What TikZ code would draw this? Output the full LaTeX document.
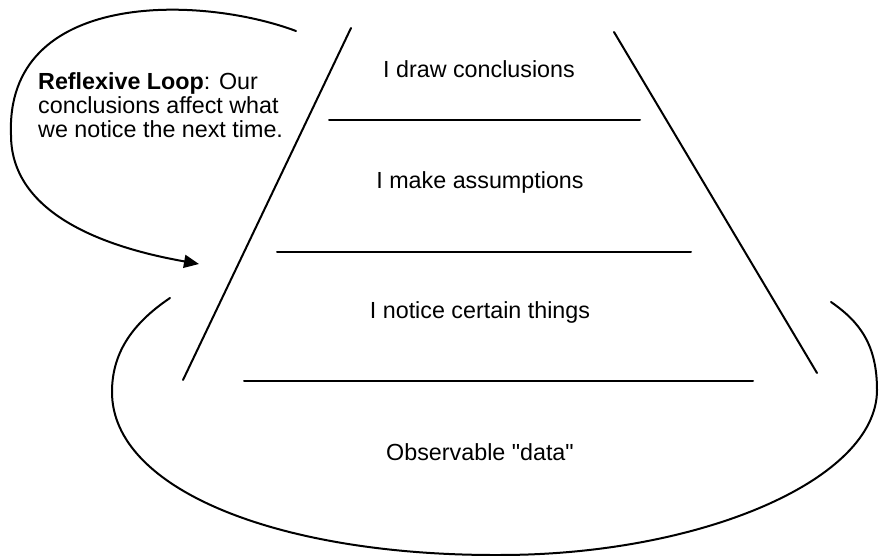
\documentclass[tikz,border=0pt]{standalone}
\usepackage{fontspec}
\setmainfont{Liberation Sans}
\usetikzlibrary{arrows.meta}
\begin{document}
\begin{tikzpicture}[x=1pt,y=-1pt,
  stroke/.style={line width=2pt, line cap=round},
  loopline/.style={line width=2pt, line cap=round},
  label/.style={font=\fontsize{23.3}{24}\selectfont, inner sep=0pt, anchor=base},
  note/.style={font=\fontsize{23.3}{24}\selectfont, inner sep=0pt, anchor=base west}]
\useasboundingbox (0,0) rectangle (879,556);

% sides of the ladder
\coordinate (lt) at (351,28);
\coordinate (lb) at (183,380);
\coordinate (rt) at (614,32);
\coordinate (rb) at (817,373);
\draw[stroke] (lt) -- (lb);
\draw[stroke] (rt) -- (rb);

% rungs
\coordinate (r1a) at (329,120); \coordinate (r1b) at (640,120);
\coordinate (r2a) at (277,252); \coordinate (r2b) at (691,252);
\coordinate (r3a) at (244,381); \coordinate (r3b) at (753,381);
\draw[stroke] (r1a) -- (r1b);
\draw[stroke] (r2a) -- (r2b);
\draw[stroke] (r3a) -- (r3b);

% level labels
\node[label] (l1) at (479,78) {I draw conclusions};
\node[label] (l2) at (480,189) {I make assumptions};
\node[label] (l3) at (480,319) {I notice certain things};
\node[label] (l4) at (480,460) {Observable \textquotedbl data\textquotedbl};

% annotation
\node[note] (n1) at (38,90) {\textbf{Reflexive Loop}: Our};
\node[note] (n2) at (38,114) {conclusions affect what};
\node[note] (n3) at (38,138) {we notice the next time.};

% reflexive loop arrow
\coordinate (as) at (296,31);
\coordinate (am) at (11,135);
\coordinate (ae) at (199,264);
\draw[loopline, -{Triangle[length=15pt,width=13pt]}]
  (as) .. controls (200,-5) and (5,-10) .. (am)
       .. controls (11,220) and (120,250) .. (ae);

% loop around the base
\coordinate (bs) at (170,298);
\coordinate (bl) at (112,392);
\coordinate (bb) at (500,555);
\coordinate (br) at (877,390);
\coordinate (be) at (831,302);
\draw[loopline]
  (bs) .. controls (130,325) and (112,355) .. (bl)
       .. controls (112,490) and (280,556) .. (bb)
       .. controls (700,555) and (877,480) .. (br)
       .. controls (877,345) and (860,322) .. (be);
\end{tikzpicture}
\end{document}
